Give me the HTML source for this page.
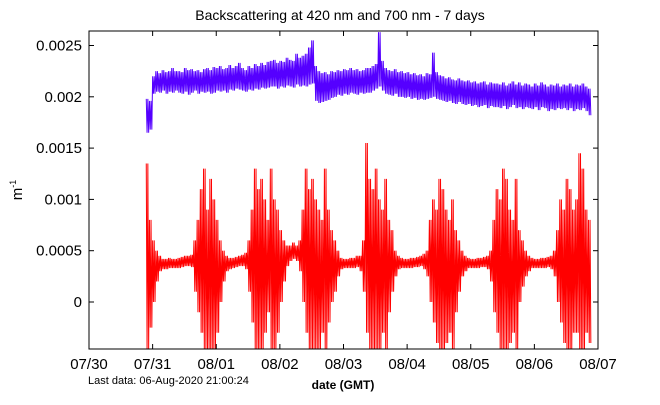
<!DOCTYPE html>
<html><head><meta charset="utf-8"><style>
body{margin:0;background:#fff;}
svg{display:block;font-family:"Liberation Sans",sans-serif;}
</style></head><body>
<svg id="chart" width="660" height="405">
<text x="340" y="20" font-size="14" text-anchor="middle">Backscattering at 420 nm and 700 nm - 7 days</text>
<text transform="translate(22,190) rotate(-90)" font-size="15" text-anchor="middle">m<tspan font-size="9" dy="-6">-1</tspan></text>
<text x="88" y="384" font-size="11">Last data: 06-Aug-2020 21:00:24</text>
<text x="343" y="389" font-size="12" font-weight="bold" text-anchor="middle">date (GMT)</text>
<defs><clipPath id="pc"><rect x="89" y="31" width="509" height="318"/></clipPath></defs>
<g id="series" clip-path="url(#pc)"></g>
<g id="axes"></g>
</svg>
<script>
const xTickLabels=["07/30","07/31","08/01","08/02","08/03","08/04","08/05","08/06","08/07"];
const yTickValues=[0,0.0005,0.001,0.0015,0.002,0.0025];
const yTickLabels=["0","0.0005","0.001","0.0015","0.002","0.0025"];
const binStart=0.9, binStep=0.05;
const blueHi=[19.8,19.6,22,22.5,22.3,22.6,22.4,22.5,22.8,22.5,
22.5,22.4,22.8,22.6,22.7,22.5,22.6,22.4,22.7,22.8,
22.6,22.9,22.8,23.0,22.7,22.8,23.1,22.8,23.0,23.3,
22.8,22.6,23.0,22.8,23.2,23.0,23.3,23.1,23.4,23.5,
23.6,23.3,23.5,23.4,23.8,23.6,23.5,24.2,23.8,24.0,
24.2,24.8,25.5,23.0,22.5,22.3,22.4,22.2,22.5,22.4,
22.6,22.5,22.7,22.6,22.8,22.6,22.7,22.5,22.6,22.8,
22.8,23.0,23.2,26.3,23.5,22.8,22.6,22.5,22.7,22.4,
22.5,22.3,22.4,22.2,22.3,22.1,22.2,22.0,22.3,22.2,
24.3,22.4,22.1,22.0,21.8,21.9,21.7,21.6,21.8,21.6,
21.5,21.6,21.4,21.5,21.3,21.4,21.5,21.2,21.4,21.3,
21.3,21.2,21.4,21.1,21.3,21.5,21.2,21.4,21.1,21.3,
21.2,21.0,21.3,21.1,21.4,21.2,21.0,21.2,21.1,21.3,
21.0,21.2,21.1,21.3,21.0,21.2,21.1,21.3,21.0,20.8];
const blueLo=[16.5,16.8,20.3,20.5,20.4,20.6,20.3,20.5,20.4,20.6,
20.4,20.3,20.5,20.2,20.4,20.6,20.3,20.5,20.4,20.5,
20.3,20.4,20.6,20.5,20.6,20.4,20.7,20.6,20.8,20.7,
20.6,20.5,20.7,20.6,20.8,20.7,20.9,20.8,20.9,21.0,
21.0,20.8,21.0,20.9,21.1,21.0,20.9,21.2,21.0,21.1,
21.0,21.2,21.3,19.6,19.4,19.5,19.6,19.7,19.9,20.0,
20.2,20.1,20.3,20.2,20.4,20.3,20.2,20.4,20.3,20.4,
20.4,20.6,20.8,21.0,20.6,20.3,20.2,20.1,20.3,20.0,
20.0,19.9,20.0,19.8,19.9,19.7,19.8,19.7,19.8,19.9,
20.0,19.8,19.7,19.6,19.5,19.6,19.4,19.3,19.5,19.3,
19.2,19.3,19.1,19.2,19.0,19.1,19.2,18.9,19.1,19.0,
19.0,18.9,19.1,18.8,19.0,19.2,18.9,19.0,18.8,19.0,
18.9,18.8,19.0,18.7,19.0,18.9,18.6,18.8,18.7,18.9,
18.8,18.9,18.7,18.9,18.6,18.8,18.7,18.9,18.6,18.2];
const redHi=[13.5,8,6,5,4.5,4.2,4.2,4.3,4.2,4.2,
4.3,4.4,4.5,4.5,4.6,6,8,11,13,9,
12,10,8,6,5,4.5,4.3,4.3,4.4,4.5,
4.6,4.8,6,9,13,11,12,10,8,13,
10,9,7,6,5.5,5.5,5.8,5.5,6,9,
13,11,12,10,9,8,13,9,7,6,
5,4.3,4.2,4.2,4.3,4.3,4.5,4.5,6,15.5,
12,11,13,10,9,12,8,7,5,4.5,
4.3,4.2,4.2,4.3,4.3,4.4,4.5,4.7,5,8,
10,9,12,11,9,8,10,7,6,5,
4.5,4.3,4.2,4.2,4.3,4.3,4.4,4.5,5,8,
11,10,13,12,9,8,12,7,6,5,
4.5,4.3,4.2,4.2,4.3,4.3,4.4,4.5,5,7,
10,9,12,11,9,10,14.5,13,9,8];
const redLo=[-4.6,-2.5,0,2,3,3.2,3.2,3.3,3.3,3.3,
3.3,3.4,3.5,3.5,3.4,1,-1,-3,-4.6,-4.6,
-4.6,-4.6,-3,0,2,3,3.2,3.3,3.4,3.5,
3.5,3.2,1,-2,-4.6,-4.6,-4.6,-3,-1,-4.6,
-4.6,-3,0,2,3.5,4,4.2,4,3,0,
-3,-4.6,-4.6,-4.6,-4.6,-3,-4.6,-2,0,1,
2.5,3.2,3.3,3.3,3.3,3.3,3.4,3,1,-3,
-4.6,-4.6,-4.6,-4.6,-3,-4.6,-1,1,2.5,3.2,
3.3,3.3,3.3,3.3,3.4,3.4,3.5,3.2,2.5,0,
-2,-4,-4.6,-4.6,-4,-3,-4.6,-1,1,2.5,
3,3.3,3.3,3.3,3.3,3.4,3.4,3.2,2,-1,
-3,-4.6,-4.6,-4.6,-4,-3,-4.6,0,1.5,2.5,
3,3.3,3.3,3.3,3.3,3.3,3.4,3.2,2.5,0,
-2,-4,-4.6,-4.6,-3,-3,-4.6,-4.6,-3,-4];

const L=89,R=598,T=31,B=349;
const xScale=d=>L+d*(R-L)/8;
const yScale=v=>302-v*102600;
const NS="http://www.w3.org/2000/svg";
const series=document.getElementById('series');
const axes=document.getElementById('axes');
function band(hi,lo,color,name){
  const pts=[];
  for(let i=0;i<hi.length;i++){
    const t=binStart+i*binStep;
    for(let k=0;k<4;k++){
      const v=(k%2===0?hi[i]:lo[i])*1e-4;
      pts.push(xScale(t+k*binStep/4).toFixed(2)+","+yScale(v).toFixed(2));
    }
  }
  const p=document.createElementNS(NS,'polyline');
  p.setAttribute('points',pts.join(' '));
  p.setAttribute('fill','none');p.setAttribute('stroke',color);p.setAttribute('stroke-width','1');
  
  
  series.appendChild(p);
}
band(blueHi,blueLo,'#5500ff','series-420nm');
band(redHi,redLo,'#ff0000','series-700nm');

const frame=document.createElementNS(NS,'rect');
frame.setAttribute('x',L);frame.setAttribute('y',T);frame.setAttribute('width',R-L);frame.setAttribute('height',B-T);
frame.setAttribute('fill','none');frame.setAttribute('stroke','#000');


axes.appendChild(frame);
function line(x1,y1,x2,y2){const l=document.createElementNS(NS,'line');l.setAttribute('x1',x1);l.setAttribute('y1',y1);l.setAttribute('x2',x2);l.setAttribute('y2',y2);l.setAttribute('stroke','#000');axes.appendChild(l);return l;}
xTickLabels.forEach((lab,i)=>{
  const x=xScale(i);
  const t1=line(x,B,x,B-5);
  
  
  const t2=line(x,T,x,T+5);
  
  
  const tx=document.createElementNS(NS,'text');
  tx.setAttribute('x',x);tx.setAttribute('y',369);tx.setAttribute('font-size','15');tx.setAttribute('text-anchor','middle');
  tx.textContent=lab;
  
  
  axes.appendChild(tx);
});
yTickValues.forEach((v,i)=>{
  const y=yScale(v);
  const t1=line(L,y,L+5,y);
  
  
  const t2=line(R,y,R-5,y);
  
  
  const tx=document.createElementNS(NS,'text');
  tx.setAttribute('x',82);tx.setAttribute('y',y+5);tx.setAttribute('font-size','15');tx.setAttribute('text-anchor','end');
  tx.textContent=yTickLabels[i];
  
  
  axes.appendChild(tx);
});
</script>
</body></html>
